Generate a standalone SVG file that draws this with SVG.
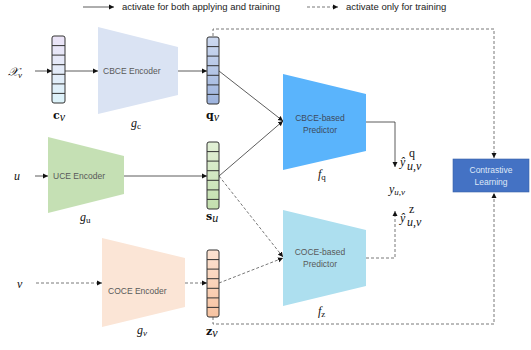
<svg xmlns="http://www.w3.org/2000/svg" width="531" height="350" viewBox="0 0 531 350">
<style>
.lbl{font-family:"Liberation Sans",Arial,sans-serif;font-size:8.5px;fill:#595959}
.leg{font-family:"Liberation Sans",Arial,sans-serif;font-size:9.5px;fill:#222}
.m{font-family:"DejaVu Serif","Liberation Serif",serif;font-size:11px;fill:#111}
.mi{font-family:"Liberation Serif",serif;font-style:italic;font-size:12px;fill:#111}
.up{font-style:normal}
.sol{stroke:#333;stroke-width:0.8;fill:none}
.dsh{stroke:#555;stroke-width:0.8;fill:none;stroke-dasharray:3,2}
.vec{stroke:#333;stroke-width:1}
</style>
<defs>
<marker id="ah" markerWidth="6" markerHeight="6" refX="5" refY="3" orient="auto" markerUnits="userSpaceOnUse"><path d="M0,0.5 L5,3 L0,5.5 Z" fill="#111"/></marker>
<linearGradient id="gc" x1="0" y1="0" x2="0" y2="1"><stop offset="0" stop-color="#ebe3f7"/><stop offset="1" stop-color="#dcf3fa"/></linearGradient>
<linearGradient id="gq" x1="0" y1="0" x2="0" y2="1"><stop offset="0" stop-color="#cdd9f0"/><stop offset="1" stop-color="#9db3dd"/></linearGradient>
<linearGradient id="gs" x1="0" y1="0" x2="0" y2="1"><stop offset="0" stop-color="#e2f0d6"/><stop offset="1" stop-color="#c3dfae"/></linearGradient>
<linearGradient id="gz" x1="0" y1="0" x2="0" y2="1"><stop offset="0" stop-color="#fde3d2"/><stop offset="1" stop-color="#f7c3a1"/></linearGradient>
</defs>

<g id="legend">
<line x1="83" y1="7" x2="114" y2="7" class="sol" marker-end="url(#ah)"/>
<text x="122" y="10" class="leg">activate for both applying and training</text>
<line x1="307" y1="7" x2="338" y2="7" class="dsh" marker-end="url(#ah)"/>
<text x="346" y="10" class="leg">activate only for training</text>
</g>

<g id="connectors">
<line x1="35" y1="71" x2="52" y2="71" class="sol" marker-end="url(#ah)"/>
<line x1="65" y1="71" x2="98" y2="71" class="sol" marker-end="url(#ah)"/>
<line x1="178" y1="71" x2="207" y2="71" class="sol" marker-end="url(#ah)"/>
<line x1="35" y1="176" x2="48" y2="176" class="sol" marker-end="url(#ah)"/>
<line x1="124" y1="176" x2="207" y2="176" class="sol" marker-end="url(#ah)"/>
<line x1="36" y1="283" x2="102" y2="283" class="dsh" marker-end="url(#ah)"/>
<line x1="185" y1="283" x2="207" y2="283" class="dsh" marker-end="url(#ah)"/>
<line x1="219" y1="71" x2="283" y2="121" class="sol" marker-end="url(#ah)"/>
<line x1="219" y1="176" x2="283" y2="121" class="sol" marker-end="url(#ah)"/>
<line x1="219" y1="176" x2="283" y2="257" class="dsh" marker-end="url(#ah)"/>
<line x1="219" y1="283" x2="283" y2="258" class="dsh" marker-end="url(#ah)"/>
<polyline points="366,122 395,122 395,167" class="sol" marker-end="url(#ah)"/>
<polyline points="366,258 395,258 395,211" class="dsh" marker-end="url(#ah)"/>
<polyline points="213,36 213,29 494,29 494,158" class="dsh" marker-end="url(#ah)"/>
<polyline points="213,317 213,324 494,324 494,193" class="dsh" marker-end="url(#ah)"/>
</g>

<g id="x_v"><text x="8" y="76" class="mi" font-size="13">𝒳<tspan font-size="9" dy="2">v</tspan></text></g>
<g id="u"><text x="14" y="180" class="mi" font-size="13">u</text></g>
<g id="v"><text x="17" y="288" class="mi" font-size="13">v</text></g>

<g id="c_v">
<rect x="52" y="36" width="13" height="67" rx="2" fill="url(#gc)" class="vec"/>
<path d="M52,45.6H65M52,55.1H65M52,64.7H65M52,74.3H65M52,83.9H65M52,93.4H65" class="vec"/>
<text x="53" y="119" class="m" font-weight="bold">c<tspan class="mi" font-weight="normal" font-size="9" dy="2">v</tspan></text>
</g>

<g id="cbce_encoder">
<polygon points="98,27 178,47 178,95 98,114" fill="#dae3f3"/>
<text x="103" y="74" class="lbl">CBCE Encoder</text>
<text x="131" y="127" class="mi" font-size="13">g<tspan class="up" font-size="9" dy="2">c</tspan></text>
</g>

<g id="q_v">
<rect x="207" y="37" width="12" height="67" rx="2" fill="url(#gq)" class="vec"/>
<path d="M207,46.6H219M207,56.1H219M207,65.7H219M207,75.3H219M207,84.9H219M207,94.4H219" class="vec"/>
<text x="206" y="119" class="m" font-weight="bold">q<tspan class="mi" font-weight="normal" font-size="9" dy="2">v</tspan></text>
</g>

<g id="uce_encoder">
<polygon points="48,137 124,156 124,194 48,213" fill="#c5e0b4"/>
<text x="53" y="179" class="lbl">UCE Encoder</text>
<text x="80" y="221" class="mi" font-size="13">g<tspan class="up" font-size="9" dy="2">u</tspan></text>
</g>

<g id="s_u">
<rect x="207" y="142" width="12" height="67" rx="2" fill="url(#gs)" class="vec"/>
<path d="M207,151.6H219M207,161.1H219M207,170.7H219M207,180.3H219M207,189.9H219M207,199.4H219" class="vec"/>
<text x="206" y="220" class="m" font-weight="bold">s<tspan class="mi" font-weight="normal" font-size="9" dy="2">u</tspan></text>
</g>

<g id="coce_encoder">
<polygon points="102,238 185,258 185,307 102,327" fill="#fbe5d6"/>
<text x="108" y="294" class="lbl">COCE Encoder</text>
<text x="137" y="334" class="mi" font-size="13">g<tspan font-size="9" dy="2">v</tspan></text>
</g>

<g id="z_v">
<rect x="207" y="250" width="12" height="67" rx="2" fill="url(#gz)" class="vec"/>
<path d="M207,259.6H219M207,269.1H219M207,278.7H219M207,288.3H219M207,297.9H219M207,307.4H219" class="vec"/>
<text x="206" y="335" class="m" font-weight="bold">z<tspan class="mi" font-weight="normal" font-size="9" dy="2">v</tspan></text>
</g>

<g id="cbce_predictor">
<polygon points="283,74 366,94 366,151 283,170" fill="#5ab4fc"/>
<text x="320" y="121" class="lbl" style="fill:#3d4a5c" text-anchor="middle">CBCE-based</text>
<text x="320" y="133" class="lbl" style="fill:#3d4a5c" text-anchor="middle">Predictor</text>
<text x="318" y="178" class="mi" font-size="13">f<tspan class="up" font-size="9" dy="2">q</tspan></text>
</g>

<g id="coce_predictor">
<polygon points="283,210 366,230 366,286 283,306" fill="#addfef"/>
<text x="320" y="255" class="lbl" text-anchor="middle">COCE-based</text>
<text x="320" y="267" class="lbl" text-anchor="middle">Predictor</text>
<text x="318" y="315" class="mi" font-size="13">f<tspan class="up" font-size="9" dy="2">z</tspan></text>
</g>

<g id="y_hat_q">
<text x="400" y="166" class="mi" font-size="13">ŷ</text>
<text x="407" y="170" class="mi" font-size="8.5">u,v</text>
<text x="409" y="157" class="mi up" font-size="8.5">q</text>
</g>
<g id="y_uv"><text x="389" y="193" class="mi" font-size="13">y<tspan font-size="9" dy="2">u,v</tspan></text></g>
<g id="y_hat_z">
<text x="400" y="222" class="mi" font-size="13">ŷ</text>
<text x="407" y="226" class="mi" font-size="8.5">u,v</text>
<text x="409" y="213" class="mi up" font-size="8.5">z</text>
</g>

<g id="contrastive_learning">
<rect x="453" y="159" width="76" height="33" fill="#4472c4" stroke="#3a62a8" stroke-width="0.6"/>
<text x="491" y="173" class="lbl" style="fill:#dfe8f7" text-anchor="middle">Contrastive</text>
<text x="491" y="185" class="lbl" style="fill:#dfe8f7" text-anchor="middle">Learning</text>
</g>
</svg>
